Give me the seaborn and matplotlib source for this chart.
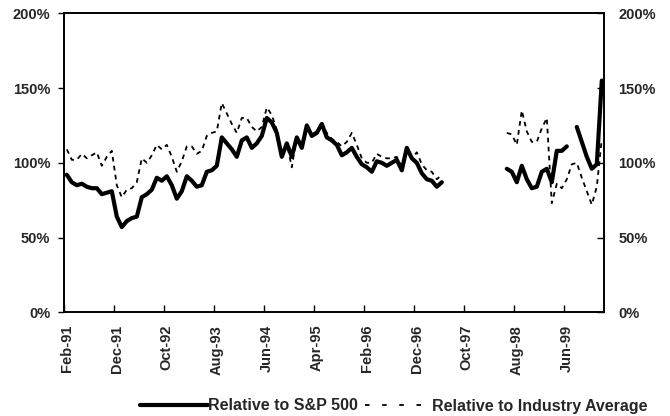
import numpy as np
import pandas as pd
import matplotlib
matplotlib.use('Agg')
import matplotlib.pyplot as plt
from matplotlib.lines import Line2D
import seaborn as sns

# monthly categories, Feb-91 .. Jan-00
months = pd.date_range('1991-02-01', '2000-01-01', freq='MS').strftime('%b-%y').tolist()

tickLabels = ['Feb-91', 'Dec-91', 'Oct-92', 'Aug-93', 'Jun-94', 'Apr-95',
              'Feb-96', 'Dec-96', 'Oct-97', 'Aug-98', 'Jun-99']

yTicks = [0, 50, 100, 150, 200]

nan = np.nan

# values in %
relSP500 = [92, 87, 85, 86, 84, 83, 83, 79, 80, 81,
            64, 57, 61, 63, 64, 77, 79, 82, 90, 88,
            91, 85, 76, 81, 91, 88, 84, 85, 94, 95,
            98, 117, 113, 109, 104, 115, 117, 110, 113, 118,
            130, 127, 120, 104, 113, 104, 117, 110, 125, 118,
            120, 126, 117, 115, 112, 105, 107, 110, 104, 99,
            97, 94, 101, 100, 98, 100, 102, 95, 110, 103,
            100, 93, 89, 88, 84, 87, nan, nan, nan, nan,
            nan, nan, nan, nan, nan, nan, nan, nan, 96, 94,
            87, 98, 89, 83, 84, 94, 96, 87, 108, 108,
            111, nan, 124, 114, 104, 96, 99, 155]

relIndustry = [109, 102, 102, 106, 103, 105, 107, 98, 104, 108,
               85, 77, 82, 83, 87, 103, 100, 105, 112, 109,
               112, 104, 94, 101, 111, 111, 106, 108, 118, 120,
               121, 140, 133, 126, 120, 130, 130, 124, 121, 124,
               137, 132, 122, 106, 113, 97, 118, 112, 124, 119,
               121, 125, 120, 116, 114, 111, 114, 120, 112, 103,
               100, 100, 106, 104, 103, 103, 104, 97, 111, 103,
               107, 99, 95, 94, 89, 92, nan, nan, nan, nan,
               nan, nan, nan, nan, nan, nan, nan, nan, 120, 119,
               112, 135, 121, 114, 114, 123, 130, 73, 86, 83,
               89, 99, 100, 90, 81, 72, 84, 116]


def ToSegments(values):
    # split a series at the gaps so the lines break there
    rows = []
    segment = 0
    inGap = True
    for i, v in enumerate(values):
        if np.isnan(v):
            inGap = True
            continue
        if inGap:
            segment += 1
            inGap = False
        rows.append((i, months[i], v, segment))
    return pd.DataFrame(rows, columns=['idx', 'month', 'value', 'segment'])


dfSolid = ToSegments(relSP500)
dfDashed = ToSegments(relIndustry)

sns.set_style('white')
plt.rcParams['font.family'] = ['Liberation Sans', 'DejaVu Sans']

fig = plt.figure(figsize=(6.7, 4.16), dpi=100)
ax = fig.add_axes([64.3 / 670, 1 - 312.3 / 416, 540 / 670, 299 / 416])

dashPattern = (0, (2.6, 2.4))

sns.lineplot(data=dfSolid, x='idx', y='value', units='segment', estimator=None,
             color='black', linewidth=3.0, ax=ax, legend=False)
sns.lineplot(data=dfDashed, x='idx', y='value', units='segment', estimator=None,
             color='black', linewidth=1.3, linestyle=dashPattern, ax=ax, legend=False)

ax.set_xlim(-0.5, len(months) - 0.5)
ax.set_ylim(0, 200)
ax.set_xlabel('')
ax.set_ylabel('')

# category labels every 10 months, tick marks between categories
ax.set_xticks(range(0, 110, 10))
ax.set_xticklabels(tickLabels, rotation=90, fontweight='bold', fontsize=10.5)
ax.set_xticks(np.arange(-0.5, 100, 10), minor=True)
ax.tick_params(axis='x', which='major', length=0, pad=9)
ax.tick_params(axis='x', which='minor', direction='in', length=5, width=1, color='black', bottom=True)

ax.set_yticks(yTicks)
ax.set_yticklabels([f'{v}%' for v in yTicks], fontweight='bold', fontsize=10.5)
ax.tick_params(axis='y', direction='out', length=4, width=1, color='black', left=True, pad=6)

ax2 = ax.twinx()
ax2.set_ylim(0, 200)
ax2.set_yticks(yTicks)
ax2.set_yticklabels([f'{v}%' for v in yTicks], fontweight='bold', fontsize=10.5)
ax2.tick_params(axis='y', direction='in', length=5, width=1, color='black', right=True, pad=10)

for a in (ax, ax2):
    for spine in a.spines.values():
        spine.set_color('black')
        spine.set_linewidth(1.2)

handles = [Line2D([], [], color='black', linewidth=3.0),
           Line2D([], [], color='black', linewidth=1.3, linestyle=(0, (2.5, 7)))]
fig.legend(handles, ['Relative to S&P 500', 'Relative to Industry Average'],
           loc='center right', bbox_to_anchor=(648 / 670, 1 - 406 / 416), ncol=2,
           frameon=False, borderpad=0, borderaxespad=0,
           handlelength=4.2, handletextpad=0.05, columnspacing=0.4,
           prop={'size': 11.5, 'weight': 'bold'})

fig.savefig('out.png', dpi=100, facecolor='white')
